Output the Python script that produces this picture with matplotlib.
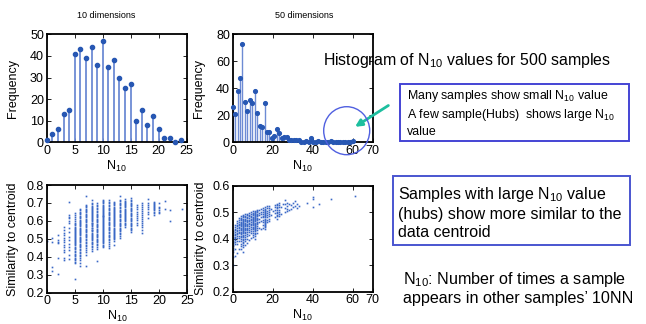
import numpy as np
import matplotlib
matplotlib.use('Agg')
import matplotlib.pyplot as plt
from matplotlib.patches import Rectangle, Ellipse

plt.rcParams['font.family'] = ['Liberation Sans', 'DejaVu Sans']
plt.rcParams['mathtext.default'] = 'regular'

# histogram, 10 dimensions (N10 = 0..24)
n10_10d = list(range(25))
freq_10d = [1, 4, 6, 13, 15, 41, 43, 39, 44, 36, 47, 35, 38, 30, 25, 27, 10, 15, 8, 12, 6, 2, 2, 0, 1]

# histogram, 50 dimensions (50 bins over 0..60)
bin_width_50d = 60 / 49
freq_50d = [26, 21, 38, 48, 73, 30, 23, 31, 29, 38, 22, 12, 11, 29, 8, 8, 3, 5, 10, 7,
            3, 4, 4, 2, 2, 2, 2, 2, 0, 0, 1, 0, 3, 0, 0, 1, 0, 0, 0, 0,
            1, 0, 0, 0, 0, 0, 0, 0, 0, 1]

# similarity to centroid (x1000) for each N10 value, 10 dimensions
sim_10d = [
    "488",
    "503 484 342 323",
    "521 494 482 475 392 304",
    "568 549 530 521 503 495 484 465 456 438 428 392 382",
    "707 633 622 614 598 587 560 540 512 494 470 456 438 410 386",
    "642 633 624 610 600 591 583 575 568 561 556 550 544 538 533 527 521 515 510 504 "
    "498 493 487 481 476 470 463 456 449 441 433 426 418 410 403 395 388 380 372 364 275",
    "668 660 651 643 636 629 621 614 607 600 594 588 581 575 569 562 556 550 543 537 "
    "531 525 519 512 506 500 494 487 481 474 467 460 452 445 437 429 421 412 403 394 382 364 350",
    "739 690 683 676 669 662 655 648 641 634 627 620 613 606 599 592 585 578 571 564 "
    "557 550 543 536 529 522 515 508 500 492 484 476 468 460 450 440 428 410 349",
    "716 700 692 685 679 672 666 660 654 648 642 637 631 625 620 614 608 603 597 591 "
    "586 580 575 569 563 558 552 547 541 535 529 523 517 511 505 498 491 484 477 469 461 452 442 430",
    "702 690 681 673 665 657 649 641 634 627 620 613 606 599 592 585 578 571 564 557 "
    "550 543 536 529 522 515 508 501 494 487 480 472 464 456 445 378",
    "717 710 703 697 691 685 679 673 668 662 657 651 646 641 635 630 625 619 614 609 "
    "603 598 593 587 582 577 571 566 561 555 550 545 539 534 528 523 517 511 505 499 "
    "493 487 481 475 468 461 455",
    "717 706 698 690 682 674 667 660 652 645 638 631 624 617 610 603 596 589 582 575 "
    "568 561 554 547 540 532 524 516 508 500 491 482 472 460 447",
    "707 699 692 686 680 674 668 662 656 650 645 639 633 627 622 616 610 604 598 593 "
    "587 581 575 569 563 557 551 545 539 533 527 521 515 509 503 497 488 468",
    "739 718 710 702 694 686 678 670 662 654 647 640 633 626 619 612 605 598 591 584 "
    "577 570 563 556 549 542 534 526 516 503",
    "720 712 705 699 693 687 681 675 669 663 657 651 645 639 633 627 621 615 609 603 597 590 583 576 568",
    "726 716 709 702 695 688 681 674 667 660 653 646 639 632 625 618 611 604 597 590 "
    "583 576 569 562 555 548 540",
    "689 676 664 652 640 628 616 604 590 577",
    "700 688 677 666 655 644 633 622 611 600 589 578 566 548 531",
    "720 700 688 676 664 652 636 614",
    "707 700 694 688 682 676 670 664 658 651 643 633",
    "698 679 670 660 651 645",
    "713 664",
    "660 600",
    "",
    "664",
]

# similarity to centroid (x1000) for each N10 value, 50 dimensions
n10_50d = list(range(34)) + [37, 40, 43, 49, 61]
sim_50d = [
    "430 421 414 408 402 397 392 388 383 378 372 366 358 350 330 302",
    "452 444 437 431 425 419 413 408 402 396 389 380 362 336",
    "468 460 452 446 440 434 428 422 416 410 402 393 380 345",
    "478 470 463 457 451 445 439 433 427 420 412 403 390 360",
    "485 479 474 469 464 459 455 450 446 441 437 432 427 422 417 411 405 398 390 381 372 362",
    "490 485 481 476 472 468 464 460 456 452 448 444 440 436 432 428 424 420 415 410 "
    "405 400 394 388 382 376 370 348",
    "492 486 480 475 470 465 460 455 450 446 442 437 432 427 421 415 408 400 390 378",
    "495 489 483 477 472 467 462 457 452 447 442 437 431 425 418 410 400 385",
    "497 490 484 478 472 466 460 454 448 441 434 425 414 395",
    "500 493 487 481 475 469 463 457 451 445 438 430 420 402",
    "503 498 493 488 483 478 474 470 466 462 458 454 450 445 440 435 429 422 414 405",
    "506 501 497 493 489 485 481 477 473 469 465 461 457 453 449 445 441 437 433 428 423 417 410 400",
    "510 504 499 494 489 484 479 474 469 464 459 454 448 441 432 420",
    "508 498 488 476 462 440",
    "512 502 492 480 466 435",
    "515 508 501 494 487 480 472 463 452 440",
    "518 513 508 504 500 496 492 488 484 480 476 472 468 464 460 456 452 448 444 438",
    "522 514 506 498 490 482 472 462",
    "524 516 508 500 492 484 475 465",
    "512 490",
    "505",
    "528 518 508 497 480",
    "531 526 520 514 508 502 496 490 484 476",
    "534 526 518 510 502 494 485",
    "520 495",
    "530",
    "545 530 515 500",
    "535 525 512 505",
    "530 510",
    "526 512",
    "534 518",
    "543 525",
    "530 515",
    "523",
    "536",
    "556 549 518",
    "531",
    "550",
    "562",
]

W, H = 646, 324


def px(x, y):
    """pixel (from top-left) to figure fraction"""
    return x / W, 1 - y / H


def columns(xs, cols):
    x_out, y_out = [], []
    for x, s in zip(xs, cols):
        for v in s.split():
            x_out.append(x)
            y_out.append(int(v) / 1000)
    return x_out, y_out


def style(ax, xlim, ylim, xticks, yticks, ylab):
    ax.set_xlim(*xlim)
    ax.set_ylim(*ylim)
    ax.set_xticks(xticks)
    ax.set_yticks(yticks)
    ax.tick_params(direction='in', top=True, right=True, length=3, width=0.6,
                   labelsize=9, pad=2)
    for s in ax.spines.values():
        s.set_linewidth(1.3)
    ax.set_xlabel('N$_{10}$', fontsize=9, labelpad=1)
    ax.set_ylabel(ylab, fontsize=9)
    ax.yaxis.set_label_coords(-0.195, 0.5)


fig = plt.figure(figsize=(6.46, 3.24), dpi=100)
stem_col = '#6d8bd4'
dot_col = '#2757b3'
pt_col = '#3a68c6'

ax1 = fig.add_axes([0.0723, 0.5608, 0.2167, 0.3333])
ax1.vlines(n10_10d, 0, freq_10d, color=stem_col, lw=1.3)
ax1.plot(n10_10d, freq_10d, 'o', color=dot_col, ms=3.0, clip_on=False, zorder=3)
style(ax1, (0, 25), (0, 50), [0, 5, 10, 15, 20, 25], [0, 10, 20, 30, 40, 50], 'Frequency')

ax2 = fig.add_axes([0.3602, 0.5608, 0.2167, 0.3333])
x50 = np.arange(len(freq_50d)) * bin_width_50d
ax2.vlines(x50, 0, freq_50d, color=stem_col, lw=1.0)
ax2.plot(x50, freq_50d, 'o', color=dot_col, ms=2.7, clip_on=False, zorder=3)
style(ax2, (0, 70), (0, 80), [0, 20, 40, 60, 70], [0, 20, 40, 60, 80], 'Frequency')

ax3 = fig.add_axes([0.0723, 0.0966, 0.2176, 0.3324])
sx, sy = columns(n10_10d, sim_10d)
ax3.plot(sx, sy, 's', color=pt_col, ms=1.2, mew=0)
style(ax3, (0, 25), (0.2, 0.8), [0, 5, 10, 15, 20, 25],
      [0.2, 0.3, 0.4, 0.5, 0.6, 0.7, 0.8], 'Similarity to centroid')

ax4 = fig.add_axes([0.3602, 0.0997, 0.2167, 0.3272])
sx, sy = columns(n10_50d, sim_50d)
ax4.plot(sx, sy, 's', color=pt_col, ms=1.2, mew=0)
style(ax4, (0, 70), (0.2, 0.6), [0, 20, 40, 60, 70],
      [0.2, 0.3, 0.4, 0.5, 0.6], 'Similarity to centroid')
ax4.yaxis.set_label_coords(-0.18, 0.5)

# panel titles
fig.text(*px(106, 15), '10 dimensions', fontsize=6.5, ha='center', va='center')
fig.text(*px(304, 15), '50 dimensions', fontsize=6.5, ha='center', va='center')

# annotations on the right
fig.text(*px(323, 61), 'Histogram of N$_{10}$ values for 500 samples', fontsize=11.4, va='center')

fig.add_artist(Rectangle(px(400, 140.7), 229.3 / W, 56.7 / H, transform=fig.transFigure,
                         fill=False, edgecolor='#4444d4', lw=1.4))
fig.text(*px(406.7, 113), 'Many samples show small N$_{10}$ value\n'
         'A few sample(Hubs)  shows large N$_{10}$\nvalue',
         fontsize=8.9, va='center', linespacing=1.3)

fig.add_artist(Rectangle(px(392.7, 245), 237.3 / W, 69 / H, transform=fig.transFigure,
                         fill=False, edgecolor='#4a55d0', lw=1.4))
fig.text(*px(398.3, 212.5), 'Samples with large N$_{10}$ value\n'
         '(hubs) show more similar to the\ndata centroid',
         fontsize=11.5, va='center', linespacing=1.22)

fig.text(*px(402.7, 288), 'N$_{10}$: Number of times a sample\n'
         'appears in other samples\u2019 10NN',
         fontsize=11.6, va='center', linespacing=1.2)

fig.add_artist(Ellipse(px(346.7, 130.7), 46 / W, 48 / H, transform=fig.transFigure,
                       fill=False, edgecolor='#5060e0', lw=1.0))
ax2.annotate('', xy=px(352.7, 128.3), xytext=px(390.7, 104),
             xycoords='figure fraction', textcoords='figure fraction',
             annotation_clip=False,
             arrowprops=dict(arrowstyle='-|>', color='#1dbf9f', lw=2, mutation_scale=10))

fig.savefig('out.png', dpi=100)
